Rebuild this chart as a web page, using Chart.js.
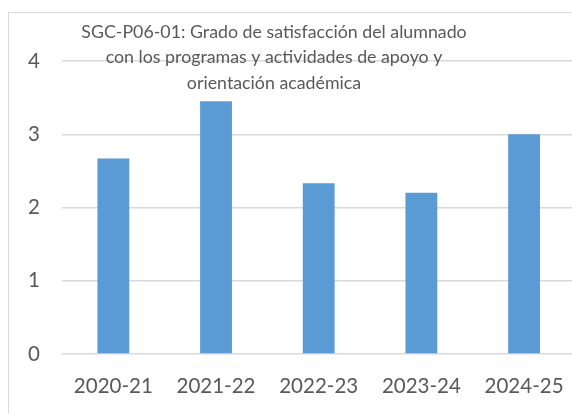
<!DOCTYPE html>
<html lang="es">
<head>
  <meta charset="UTF-8">
  <title>SGC-P06-01</title>
  <script src="https://cdn.jsdelivr.net/npm/chart.js"></script>
  <style>
    html, body {
      margin: 0;
      padding: 0;
      background: #ffffff;
      overflow: hidden;
    }
    #wrap {
      width: 572px;
      height: 414px;
      overflow: hidden;
    }
  </style>
</head>
<body>
  <div id="wrap">
    <canvas id="barChart" width="600" height="414"></canvas>
  </div>

  <script>
    const cursos = ['2020-21', '2021-22', '2022-23', '2023-24', '2024-25'];
    const satisfaccion = [2.67, 3.45, 2.33, 2.2, 3.0];
    const tituloLineas = [
      'SGC-P06-01: Grado de satisfacción del alumnado',
      'con los programas y actividades de apoyo y',
      'orientación académica'
    ];

    const textColor = '#595959';
    const gridColor = '#d9d9d9';
    const fontFamily = 'Lato, "Open Sans", sans-serif';

    // marco del gráfico y título superpuesto (como en Excel)
    const marcoYTitulo = {
      id: 'marcoYTitulo',
      beforeDraw(chart) {
        const ctx = chart.ctx;
        ctx.save();
        ctx.strokeStyle = gridColor;
        ctx.lineWidth = 1;
        ctx.strokeRect(8.5, 12.5, 700, 500);
        ctx.restore();
      },
      beforeDatasetsDraw(chart) {
        const ctx = chart.ctx;
        ctx.save();
        ctx.fillStyle = textColor;
        ctx.font = '17.8px ' + fontFamily;
        ctx.textAlign = 'center';
        ctx.textBaseline = 'middle';
        tituloLineas.forEach((linea, i) => {
          ctx.fillText(linea, 274, 32 + i * 25.5);
        });
        ctx.restore();
      }
    };

    new Chart(document.getElementById('barChart'), {
      type: 'bar',
      data: {
        labels: cursos,
        datasets: [{
          label: 'Satisfacción',
          data: satisfaccion,
          backgroundColor: '#5b9bd5',
          borderWidth: 0,
          categoryPercentage: 0.31,
          barPercentage: 1
        }]
      },
      options: {
        responsive: false,
        animation: false,
        devicePixelRatio: 1,
        layout: {
          padding: { top: 61, right: 24.6, bottom: 0, left: 0 }
        },
        plugins: {
          legend: { display: false },
          title: { display: false },
          tooltip: { enabled: false }
        },
        scales: {
          x: {
            grid: { display: false },
            border: { display: false },
            ticks: {
              color: textColor,
              font: { family: fontFamily, size: 20.5 },
              padding: 12,
              maxRotation: 0
            },
            afterFit(scale) { scale.height = 60; }
          },
          y: {
            min: 0,
            max: 4,
            grid: {
              color: gridColor,
              lineWidth: 1.5,
              drawTicks: false
            },
            border: { display: false },
            ticks: {
              stepSize: 1,
              color: textColor,
              font: { family: fontFamily, size: 20.5 },
              padding: 22
            },
            afterFit(scale) { scale.width = 62; }
          }
        }
      },
      plugins: [marcoYTitulo]
    });
  </script>
</body>
</html>
